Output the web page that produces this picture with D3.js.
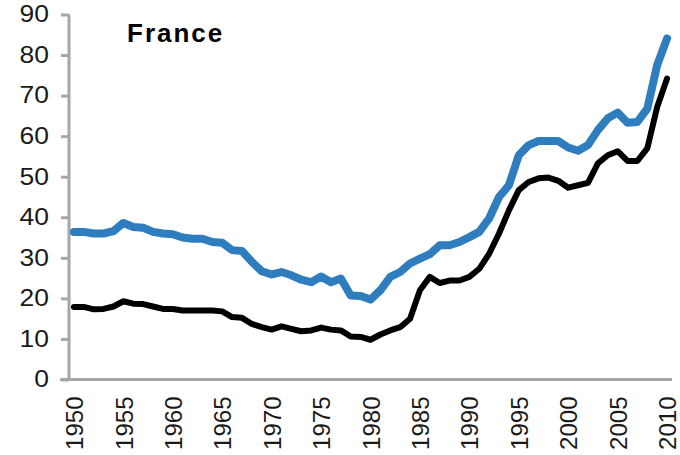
<!DOCTYPE html>
<html>
<head>
<meta charset="utf-8">
<script src="https://cdn.jsdelivr.net/npm/d3@7"></script>
<style>
  html, body { margin: 0; padding: 0; background: #fff; }
  svg { display: block; }
  text { font-family: "Liberation Sans", Arial, sans-serif; }
</style>
</head>
<body>
<svg id="chart" width="680" height="455"></svg>
<script>
const years = [1950,1951,1952,1953,1954,1955,1956,1957,1958,1959,
  1960,1961,1962,1963,1964,1965,1966,1967,1968,1969,
  1970,1971,1972,1973,1974,1975,1976,1977,1978,1979,
  1980,1981,1982,1983,1984,1985,1986,1987,1988,1989,
  1990,1991,1992,1993,1994,1995,1996,1997,1998,1999,
  2000,2001,2002,2003,2004,2005,2006,2007,2008,2009,2010];

const blueSeries = [36.4,36.4,36.0,36.0,36.6,38.6,37.6,37.4,36.4,36.0,
  35.8,35.0,34.7,34.7,33.9,33.7,31.9,31.7,29.0,26.7,
  25.9,26.5,25.7,24.6,24.0,25.4,24.0,24.9,20.7,20.6,
  19.7,22.0,25.3,26.5,28.6,29.8,30.9,33.1,33.1,33.9,
  35.1,36.4,39.7,45.0,47.9,55.3,57.8,58.8,58.8,58.8,
  57.2,56.4,57.8,61.5,64.4,65.8,63.3,63.5,66.8,77.5,84.1];

const blackSeries = [17.9,17.9,17.3,17.4,18.0,19.3,18.7,18.6,18.0,17.4,
  17.4,17.0,17.0,17.0,17.0,16.8,15.4,15.2,13.7,12.9,
  12.3,13.1,12.5,11.9,12.1,12.8,12.3,12.1,10.6,10.5,
  9.8,11.1,12.1,12.9,15.0,22.0,25.3,23.8,24.4,24.4,
  25.3,27.3,31.0,36.0,41.7,46.7,48.7,49.6,49.8,49.0,
  47.3,47.9,48.5,53.3,55.3,56.3,53.9,53.9,57.0,67.2,74.2];

const yTicks = [0,10,20,30,40,50,60,70,80,90];
const xTickLabels = [1950,1955,1960,1965,1970,1975,1980,1985,1990,1995,2000,2005,2010];
const title = "France";

const svg = d3.select("#chart");
const x = d3.scalePoint().domain(years).range([69, 672]).padding(0.5);
const y = d3.scaleLinear().domain([0, 90]).range([379.5, 14.5]);

const axisColor = "#a6a6a6";

// Y axis
const yAxis = d3.axisLeft(y).tickValues(yTicks).tickSize(8).tickPadding(12).tickFormat(d3.format("d"));
const gy = svg.append("g").attr("transform", "translate(69,0)").call(yAxis);
gy.select(".domain").attr("stroke", axisColor).attr("stroke-width", 3)
  .attr("d", `M0,${y(90)}V${y(0)}`);
gy.selectAll(".tick line").attr("stroke", axisColor).attr("stroke-width", 3);
gy.selectAll(".tick text").attr("fill", "#1a1a1a").style("font-size", "23px")
  .attr("font-family", "Liberation Sans, Arial, sans-serif")
  .attr("x", 0)
  .attr("transform", "translate(-20,0) scale(1.15,1)");

// X axis
const xAxis = d3.axisBottom(x).tickValues(xTickLabels).tickSize(0).tickPadding(0);
const gx = svg.append("g").attr("transform", `translate(0,${y(0)})`).call(xAxis);
gx.select(".domain").attr("stroke", axisColor).attr("stroke-width", 3)
  .attr("d", "M60,0H672");
gx.selectAll(".tick text")
  .attr("fill", "#1a1a1a").style("font-size", "24px")
  .attr("font-family", "Liberation Sans, Arial, sans-serif")
  .attr("text-anchor", "end")
  .attr("transform", "rotate(-90)")
  .attr("x", -17).attr("y", 0).attr("dy", "0.36em");

// Lines
const line = d3.line().x((d, i) => x(years[i])).y(d => y(d));
svg.append("path").datum(blueSeries)
  .attr("fill", "none").attr("stroke", "#2e7ebf").attr("stroke-width", 8)
  .attr("stroke-linejoin", "round").attr("stroke-linecap", "round")
  .attr("d", line);
svg.append("path").datum(blackSeries)
  .attr("fill", "none").attr("stroke", "#000").attr("stroke-width", 6)
  .attr("stroke-linejoin", "round").attr("stroke-linecap", "round")
  .attr("d", line);

// Title
svg.append("text").attr("x", 127).attr("y", 42)
  .attr("font-weight", "bold").style("font-size", "26px")
  .style("letter-spacing", "2px").attr("fill", "#000")
  .text(title);
</script>
</body>
</html>
